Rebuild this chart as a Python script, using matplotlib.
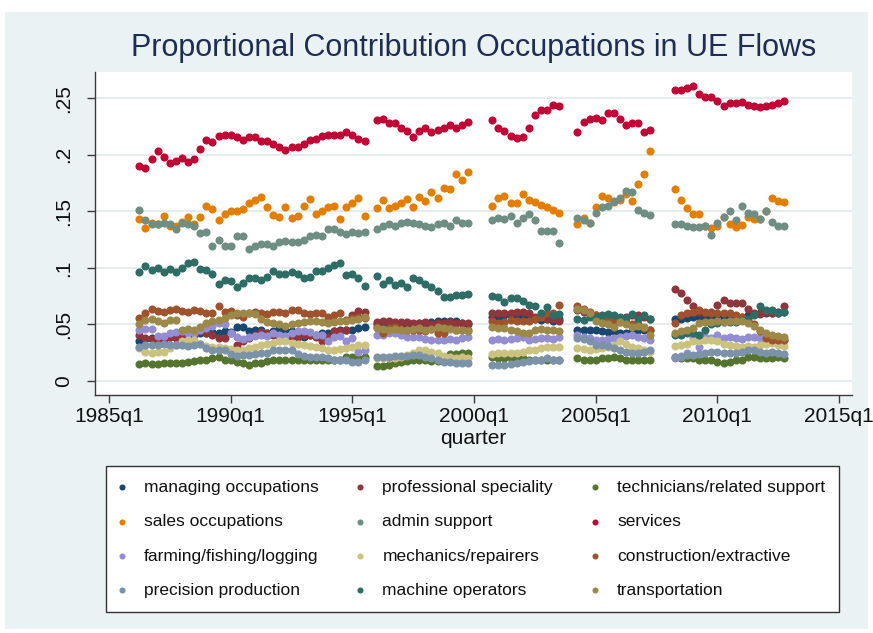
import numpy as np
import pandas as pd
import matplotlib
matplotlib.use("Agg")
import matplotlib.pyplot as plt
from matplotlib.patches import Rectangle

plt.rcParams['font.family'] = ['Liberation Sans', 'DejaVu Sans']

# ---------------- data ----------------
segments = [("1986Q2", "1995Q3"), ("1996Q1", "1999Q4"), ("2000Q4", "2003Q3"),
            ("2004Q2", "2007Q2"), ("2008Q2", "2012Q4")]

managing = [0.035,0.037,0.038,0.037,0.036,0.039,0.039,0.040,0.041,0.041,0.042,0.042,0.043,0.042,0.044,0.043,0.048,0.048,0.044,0.045,0.045,0.042,0.044,0.047,0.045,0.044,0.042,0.039,0.041,0.041,0.042,0.042,0.044,0.045,0.045,0.045,0.047,0.048,
            0.050,0.050,0.050,0.050,0.050,0.050,0.050,0.051,0.051,0.052,0.053,0.053,0.053,0.053,0.051,0.050,
            0.057,0.056,0.058,0.058,0.058,0.057,0.055,0.055,0.054,0.055,0.053,0.055,
            0.045,0.045,0.045,0.045,0.044,0.043,0.044,0.042,0.042,0.044,0.045,0.045,0.045,
            0.055,0.055,0.056,0.057,0.057,0.057,0.057,0.058,0.056,0.058,0.057,0.057,0.058,0.059,0.060,0.060,0.060,0.061,0.061]
professional = [0.041,0.038,0.037,0.036,0.038,0.039,0.038,0.039,0.039,0.041,0.044,0.042,0.041,0.038,0.038,0.042,0.032,0.035,0.038,0.041,0.043,0.042,0.041,0.039,0.039,0.039,0.039,0.041,0.041,0.039,0.035,0.039,0.044,0.044,0.045,0.058,0.062,0.061,
                0.052,0.053,0.053,0.052,0.052,0.052,0.051,0.051,0.052,0.050,0.051,0.051,0.052,0.051,0.051,0.051,
                0.060,0.060,0.060,0.060,0.061,0.061,0.060,0.057,0.057,0.055,0.055,0.053,
                0.063,0.061,0.060,0.058,0.057,0.058,0.057,0.056,0.057,0.058,0.058,0.057,0.055,
                0.081,0.078,0.072,0.066,0.061,0.060,0.061,0.067,0.072,0.069,0.069,0.069,0.064,0.060,0.059,0.061,0.060,0.060,0.066]
technicians = [0.015,0.016,0.015,0.015,0.016,0.016,0.016,0.016,0.017,0.018,0.019,0.019,0.020,0.021,0.019,0.019,0.017,0.016,0.014,0.016,0.016,0.018,0.019,0.019,0.019,0.019,0.019,0.019,0.019,0.019,0.019,0.019,0.019,0.019,0.021,0.021,0.020,0.021,
               0.013,0.013,0.014,0.016,0.017,0.018,0.019,0.019,0.019,0.018,0.018,0.018,0.024,0.024,0.025,0.025,
               0.021,0.020,0.020,0.020,0.020,0.020,0.019,0.019,0.019,0.019,0.019,0.019,
               0.020,0.019,0.019,0.019,0.020,0.020,0.021,0.020,0.019,0.019,0.019,0.019,0.019,
               0.021,0.020,0.020,0.020,0.019,0.019,0.019,0.017,0.016,0.017,0.019,0.019,0.021,0.021,0.020,0.020,0.020,0.021,0.020]
sales = [0.143,0.135,0.140,0.139,0.146,0.137,0.137,0.141,0.145,0.139,0.145,0.155,0.152,0.142,0.148,0.150,0.150,0.152,0.157,0.160,0.163,0.154,0.147,0.145,0.154,0.144,0.146,0.155,0.161,0.148,0.150,0.154,0.155,0.143,0.154,0.157,0.162,0.146,
         0.153,0.160,0.153,0.155,0.157,0.161,0.154,0.163,0.159,0.167,0.162,0.171,0.170,0.183,0.178,0.185,
         0.155,0.162,0.164,0.157,0.157,0.165,0.160,0.158,0.156,0.154,0.151,0.149,
         0.139,0.144,0.140,0.154,0.164,0.162,0.158,0.160,0.165,0.159,0.174,0.183,0.203,
         0.170,0.160,0.153,0.148,0.148,0.137,0.135,0.137,0.145,0.139,0.136,0.138,0.145,0.143,0.143,0.150,0.162,0.159,0.158]
admin = [0.151,0.142,0.139,0.139,0.140,0.139,0.134,0.140,0.139,0.137,0.131,0.132,0.119,0.125,0.119,0.119,0.128,0.128,0.117,0.119,0.121,0.121,0.119,0.123,0.124,0.123,0.123,0.125,0.128,0.129,0.128,0.134,0.134,0.132,0.130,0.132,0.131,0.132,
         0.134,0.137,0.139,0.137,0.140,0.141,0.140,0.139,0.137,0.136,0.139,0.140,0.137,0.142,0.140,0.140,
         0.142,0.144,0.143,0.146,0.140,0.144,0.148,0.142,0.133,0.133,0.133,0.122,
         0.144,0.142,0.140,0.149,0.154,0.155,0.159,0.162,0.168,0.167,0.151,0.149,0.147,
         0.139,0.139,0.137,0.136,0.136,0.137,0.129,0.140,0.145,0.150,0.142,0.155,0.149,0.148,0.143,0.150,0.141,0.137,0.137]
services = [0.190,0.188,0.196,0.203,0.198,0.193,0.195,0.197,0.194,0.196,0.205,0.213,0.211,0.217,0.218,0.218,0.216,0.213,0.216,0.216,0.212,0.212,0.210,0.207,0.204,0.207,0.207,0.210,0.213,0.214,0.217,0.218,0.218,0.218,0.220,0.218,0.214,0.212,
            0.231,0.232,0.228,0.228,0.224,0.221,0.216,0.221,0.224,0.220,0.222,0.224,0.226,0.224,0.226,0.229,
            0.231,0.224,0.221,0.217,0.215,0.216,0.224,0.235,0.240,0.240,0.244,0.243,
            0.220,0.229,0.232,0.233,0.231,0.237,0.237,0.232,0.226,0.228,0.228,0.220,0.222,
            0.257,0.257,0.259,0.261,0.254,0.251,0.251,0.248,0.243,0.246,0.246,0.247,0.244,0.243,0.242,0.243,0.244,0.246,0.248]
farming = [0.045,0.046,0.046,0.040,0.040,0.042,0.043,0.044,0.042,0.042,0.045,0.047,0.049,0.051,0.050,0.042,0.039,0.037,0.039,0.040,0.041,0.040,0.042,0.041,0.040,0.042,0.044,0.044,0.043,0.041,0.041,0.035,0.039,0.040,0.035,0.038,0.026,0.027,
           0.041,0.041,0.042,0.042,0.041,0.039,0.039,0.039,0.037,0.036,0.036,0.036,0.037,0.036,0.038,0.039,
           0.036,0.037,0.036,0.037,0.038,0.039,0.036,0.037,0.038,0.038,0.037,0.039,
           0.041,0.039,0.038,0.036,0.036,0.037,0.038,0.039,0.040,0.041,0.039,0.038,0.036,
           0.020,0.022,0.025,0.038,0.030,0.039,0.038,0.041,0.038,0.039,0.038,0.037,0.039,0.039,0.038,0.036,0.035,0.035,0.036]
mechanics = [0.029,0.026,0.025,0.026,0.026,0.029,0.032,0.035,0.036,0.036,0.033,0.031,0.030,0.030,0.029,0.028,0.027,0.027,0.029,0.030,0.032,0.033,0.034,0.035,0.035,0.034,0.033,0.032,0.031,0.030,0.029,0.027,0.027,0.028,0.029,0.030,0.032,0.032,
             0.020,0.020,0.020,0.020,0.021,0.023,0.025,0.027,0.027,0.026,0.025,0.022,0.021,0.020,0.021,0.020,
             0.024,0.025,0.025,0.025,0.025,0.026,0.027,0.027,0.029,0.030,0.030,0.030,
             0.029,0.028,0.027,0.028,0.029,0.030,0.032,0.035,0.033,0.030,0.029,0.027,0.026,
             0.031,0.032,0.033,0.035,0.035,0.036,0.036,0.035,0.033,0.032,0.031,0.030,0.031,0.030,0.032,0.033,0.034,0.032,0.031]
construction = [0.056,0.060,0.064,0.062,0.061,0.063,0.064,0.062,0.061,0.063,0.062,0.060,0.060,0.066,0.061,0.062,0.058,0.057,0.060,0.061,0.060,0.059,0.061,0.061,0.060,0.063,0.063,0.060,0.059,0.060,0.060,0.057,0.058,0.060,0.054,0.056,0.057,0.056,
                0.048,0.042,0.047,0.048,0.046,0.045,0.045,0.045,0.044,0.046,0.042,0.042,0.047,0.045,0.045,0.045,
                0.053,0.051,0.052,0.054,0.053,0.053,0.053,0.055,0.057,0.060,0.060,0.067,
                0.066,0.064,0.061,0.058,0.054,0.055,0.053,0.052,0.051,0.050,0.050,0.047,0.045,
                0.051,0.058,0.060,0.061,0.063,0.061,0.060,0.060,0.060,0.060,0.058,0.057,0.053,0.050,0.044,0.038,0.036,0.036,0.036]
precision = [0.030,0.032,0.032,0.032,0.033,0.032,0.032,0.032,0.031,0.032,0.033,0.029,0.027,0.027,0.027,0.024,0.022,0.023,0.023,0.024,0.025,0.025,0.027,0.027,0.027,0.027,0.024,0.022,0.021,0.021,0.021,0.020,0.019,0.019,0.019,0.017,0.017,0.019,
             0.021,0.021,0.021,0.022,0.022,0.022,0.023,0.023,0.021,0.020,0.019,0.017,0.017,0.016,0.016,0.016,
             0.014,0.014,0.014,0.015,0.016,0.017,0.018,0.019,0.019,0.020,0.019,0.019,
             0.038,0.037,0.035,0.032,0.032,0.031,0.029,0.027,0.026,0.025,0.025,0.026,0.027,
             0.021,0.021,0.023,0.023,0.024,0.025,0.026,0.026,0.025,0.025,0.025,0.026,0.027,0.027,0.026,0.025,0.026,0.025,0.024]
machine = [0.096,0.102,0.098,0.100,0.096,0.099,0.096,0.100,0.104,0.105,0.099,0.098,0.095,0.086,0.089,0.088,0.083,0.087,0.091,0.091,0.089,0.092,0.097,0.095,0.095,0.096,0.095,0.091,0.092,0.097,0.097,0.100,0.103,0.104,0.094,0.095,0.091,0.084,
           0.093,0.086,0.089,0.085,0.087,0.083,0.091,0.089,0.086,0.083,0.080,0.074,0.074,0.076,0.076,0.077,
           0.075,0.074,0.070,0.073,0.073,0.071,0.067,0.066,0.060,0.065,0.058,0.059,
           0.055,0.054,0.057,0.057,0.058,0.059,0.058,0.057,0.056,0.059,0.055,0.058,0.055,
           0.041,0.041,0.042,0.042,0.041,0.045,0.050,0.051,0.052,0.052,0.052,0.054,0.055,0.058,0.066,0.063,0.063,0.060,0.061]
transportation = [0.050,0.054,0.055,0.053,0.051,0.054,0.054,0.045,0.046,0.045,0.048,0.051,0.053,0.054,0.056,0.058,0.060,0.060,0.060,0.059,0.055,0.052,0.051,0.050,0.049,0.050,0.051,0.052,0.053,0.053,0.052,0.051,0.052,0.053,0.053,0.054,0.055,0.057,
                  0.047,0.046,0.045,0.046,0.045,0.045,0.046,0.047,0.045,0.046,0.048,0.047,0.046,0.045,0.045,0.044,
                  0.048,0.047,0.047,0.045,0.044,0.042,0.042,0.045,0.046,0.045,0.045,0.044,
                  0.064,0.063,0.060,0.053,0.051,0.050,0.048,0.052,0.050,0.048,0.049,0.048,0.041,
                  0.042,0.044,0.045,0.047,0.051,0.052,0.052,0.053,0.052,0.053,0.053,0.053,0.051,0.049,0.045,0.042,0.041,0.040,0.039]

labels = ["managing occupations", "professional speciality", "technicians/related support",
          "sales occupations", "admin support", "services",
          "farming/fishing/logging", "mechanics/repairers", "construction/extractive",
          "precision production", "machine operators", "transportation"]
series = [managing, professional, technicians, sales, admin, services,
          farming, mechanics, construction, precision, machine, transportation]
colors = ["#1A476F", "#90353B", "#55752F", "#E37E00", "#6E8E84", "#C10534",
          "#938DD2", "#CAC27E", "#A0522D", "#7B92A8", "#2D6D66", "#9C8847"]

tick_years = [1985, 1990, 1995, 2000, 2005, 2010, 2015]
tick_labels_x = [f"{y}q1" for y in tick_years]
yticks = [0, 0.05, 0.10, 0.15, 0.20, 0.25]
yticklabels = ["0", ".05", ".1", ".15", ".2", ".25"]

# quarters -> decimal year
periods = pd.PeriodIndex(np.concatenate([pd.period_range(a, b, freq="Q").values for a, b in segments]))
x = np.array([p.year + (p.quarter - 1) / 4 for p in periods])

# ---------------- figure ----------------
W, H = 873, 633
fig = plt.figure(figsize=(W / 100, H / 100), dpi=100, facecolor="white")
fig.patches.append(Rectangle((5 / W, 4 / H), (868 - 5) / W, (621 - 4) / H,
                             transform=fig.transFigure, facecolor="#EAF2F3",
                             edgecolor="none", zorder=-10))

ax = fig.add_axes([95 / W, (H - 395) / H, (852 - 95) / W, (395 - 72) / H])
ax.set_facecolor("white")

handles = []
for vals, lab, col in zip(series, labels, colors):
    h = ax.scatter(x, vals, s=34, color=col, linewidths=0, label=lab, zorder=3)
    handles.append(h)

ax.set_xlim(1984.425, 2015.53)
ax.set_ylim(-0.0124, 0.2733)

ax.set_xticks(tick_years)
ax.set_xticklabels(tick_labels_x)
ax.set_yticks(yticks)
ax.set_yticklabels(yticklabels, rotation=90, va="center", ha="right")

ax.yaxis.grid(True, color="#E3ECEF", linewidth=1.4)
ax.set_axisbelow(True)
for s in ["top", "right"]:
    ax.spines[s].set_visible(False)
for s in ["left", "bottom"]:
    ax.spines[s].set_color("#3a3a3a")
    ax.spines[s].set_linewidth(1.0)

ax.tick_params(axis="both", length=6, width=1.0, color="#3a3a3a",
               labelsize=15, labelcolor="#111111")
ax.tick_params(axis="x", pad=3)
ax.tick_params(axis="y", pad=10)

ax.set_xlabel("quarter", fontsize=15, color="#111111", labelpad=2)

fig.text(473.5 / W, 1 - 48 / H, "Proportional Contribution Occupations in UE Flows",
         ha="center", va="center", fontsize=22, color="#1E2D53")

order = [0, 3, 6, 9, 1, 4, 7, 10, 2, 5, 8, 11]
leg = fig.legend([handles[i] for i in order], [labels[i] for i in order],
                 ncol=3, loc="upper left", bbox_to_anchor=(106 / W, 1 - 466 / H),
                 bbox_transform=fig.transFigure,
                 fontsize=12.5, frameon=True, fancybox=False, markerscale=0.75,
                 handlelength=0.2, handletextpad=1.18, columnspacing=2.3,
                 labelspacing=1.1, borderpad=0.8, borderaxespad=0,
                 framealpha=1.0, facecolor="white")
leg.get_frame().set_edgecolor("#333333")
leg.get_frame().set_linewidth(1.0)
for t in leg.get_texts():
    t.set_color("#111111")

fig.savefig("out.png", dpi=100, facecolor="white")
